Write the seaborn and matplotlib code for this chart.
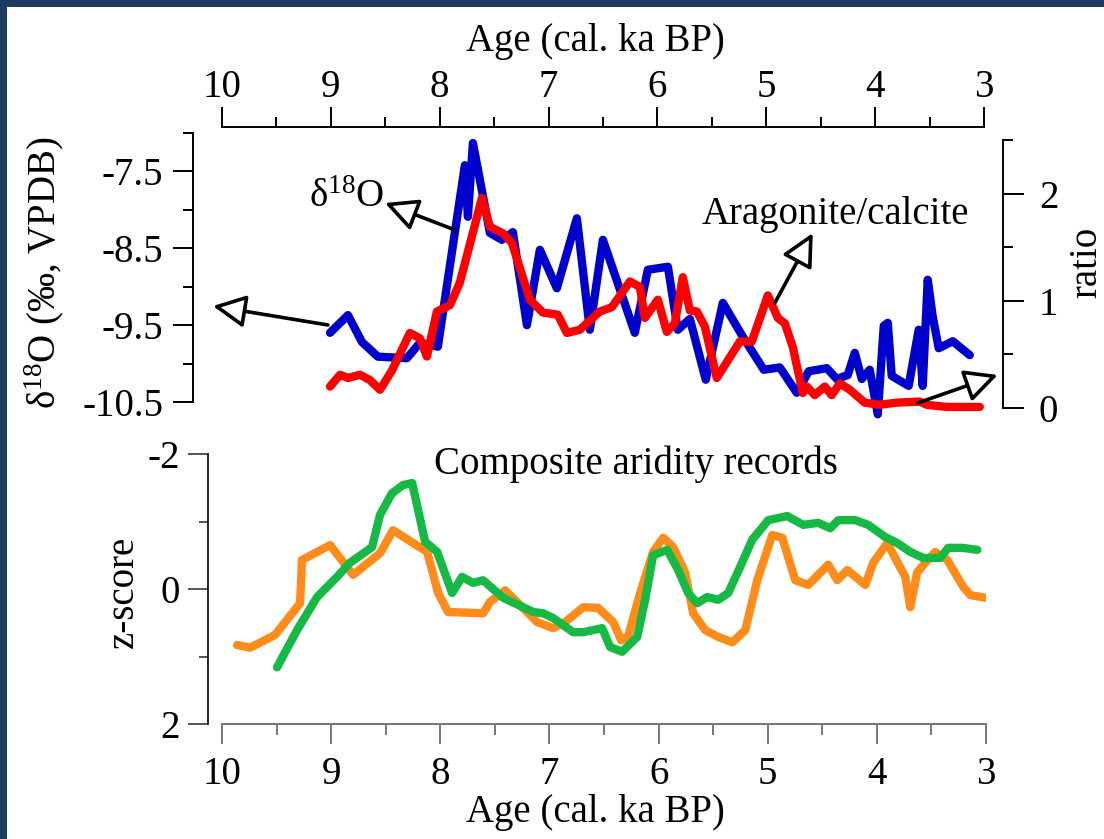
import numpy as np
import pandas as pd
import matplotlib
matplotlib.use("Agg")
import matplotlib.pyplot as plt
import seaborn as sns
from matplotlib.ticker import FixedLocator
from matplotlib.patches import Rectangle

# ---------------- data ----------------
d18o_age = [9.008, 8.843, 8.714, 8.568, 8.301, 8.182, 8.017, 7.769, 7.741, 7.695,
            7.539, 7.429, 7.328, 7.199, 7.080, 6.924, 6.740, 6.621, 6.501, 6.208,
            6.088, 5.904, 5.813, 5.702, 5.556, 5.399, 5.216, 5.023, 4.876, 4.720,
            4.610, 4.444, 4.353, 4.252, 4.187, 4.123, 4.050, 3.976, 3.921, 3.884,
            3.848, 3.692, 3.600, 3.563, 3.517, 3.471, 3.416, 3.287, 3.131]
d18o_val = [-9.60, -9.37, -9.72, -9.91, -9.93, -9.73, -9.78, -7.42, -8.09, -7.13,
            -8.30, -8.39, -8.29, -9.50, -8.52, -9.02, -8.11, -9.56, -8.39, -9.60,
            -8.78, -8.74, -9.56, -9.42, -10.21, -9.21, -9.65, -10.08, -10.05, -10.38,
            -10.10, -10.06, -10.20, -10.15, -9.86, -10.20, -10.08, -10.66, -9.51, -9.47,
            -10.16, -10.29, -9.56, -10.29, -8.91, -9.39, -9.80, -9.71, -9.89]

arag_age = [9.008, 8.916, 8.843, 8.733, 8.641, 8.549, 8.439, 8.274, 8.182, 8.118,
            8.026, 7.906, 7.815, 7.612, 7.539, 7.420, 7.337, 7.172, 7.052, 6.915,
            6.832, 6.713, 6.529, 6.419, 6.253, 6.162, 6.116, 5.996, 5.914, 5.840,
            5.767, 5.702, 5.638, 5.565, 5.455, 5.243, 5.133, 4.986, 4.894, 4.830,
            4.757, 4.665, 4.628, 4.555, 4.463, 4.399, 4.325, 4.233, 4.096, 3.958,
            3.802, 3.591, 3.526, 3.343, 3.039]
arag_ratio = [0.20, 0.31, 0.28, 0.31, 0.26, 0.17, 0.35, 0.70, 0.65, 0.48,
              0.90, 0.96, 1.17, 1.96, 1.69, 1.63, 1.54, 1.01, 0.89, 0.87,
              0.70, 0.73, 0.90, 0.94, 1.18, 1.13, 0.84, 1.01, 0.71, 0.79,
              1.22, 0.91, 0.90, 0.76, 0.28, 0.62, 0.62, 1.05, 0.84, 0.79,
              0.57, 0.14, 0.20, 0.12, 0.20, 0.12, 0.23, 0.17, 0.05, 0.03,
              0.05, 0.06, 0.03, 0.01, 0.01]

orange_age = [9.862, 9.743, 9.514, 9.285, 9.267, 9.010, 8.799, 8.552, 8.433, 8.121,
              8.020, 7.929, 7.608, 7.544, 7.406, 7.113, 6.966, 6.856, 6.691, 6.554,
              6.416, 6.343, 6.279, 6.169, 6.050, 5.958, 5.866, 5.756, 5.683, 5.573,
              5.454, 5.325, 5.206, 5.096, 4.959, 4.867, 4.748, 4.629, 4.446, 4.363,
              4.271, 4.106, 4.033, 3.905, 3.740, 3.694, 3.630, 3.556, 3.465, 3.355,
              3.208, 3.144, 3.006]
orange_z = [0.83, 0.87, 0.68, 0.21, -0.43, -0.65, -0.21, -0.53, -0.87, -0.55,
            0.06, 0.34, 0.36, 0.19, 0.02, 0.49, 0.58, 0.49, 0.27, 0.28,
            0.49, 0.76, 0.70, 0.06, -0.55, -0.76, -0.62, -0.24, 0.36, 0.61,
            0.71, 0.79, 0.61, -0.13, -0.80, -0.76, -0.13, -0.06, -0.36, -0.13,
            -0.28, -0.06, -0.39, -0.68, -0.18, 0.27, -0.25, -0.39, -0.55, -0.43,
            -0.03, 0.09, 0.13]

green_age = [9.496, 9.313, 9.129, 8.946, 8.827, 8.625, 8.552, 8.442, 8.341, 8.258,
             8.139, 8.029, 7.892, 7.800, 7.699, 7.608, 7.424, 7.149, 7.058, 6.966,
             6.783, 6.691, 6.517, 6.444, 6.334, 6.196, 6.123, 6.050, 5.921, 5.820,
             5.729, 5.646, 5.555, 5.454, 5.362, 5.252, 5.142, 4.995, 4.821, 4.675,
             4.537, 4.427, 4.354, 4.198, 4.079, 3.923, 3.813, 3.694, 3.575, 3.419,
             3.346, 3.217, 3.080]
green_z = [1.16, 0.61, 0.12, -0.18, -0.39, -0.62, -1.10, -1.42, -1.54, -1.57,
           -0.70, -0.55, 0.06, -0.18, -0.09, -0.13, 0.13, 0.34, 0.36, 0.43,
           0.64, 0.64, 0.58, 0.86, 0.93, 0.71, 0.16, -0.50, -0.58, -0.28,
           0.06, 0.21, 0.12, 0.16, 0.06, -0.33, -0.73, -1.02, -1.08, -0.95,
           -0.98, -0.90, -1.02, -1.02, -0.95, -0.77, -0.68, -0.55, -0.46, -0.46,
           -0.61, -0.61, -0.58]

age_major = [10, 9, 8, 7, 6, 5, 4, 3]
age_minor = [9.5, 8.5, 7.5, 6.5, 5.5, 4.5, 3.5]
d18o_major = [-10.5, -9.5, -8.5, -7.5]
d18o_minor = [-10.0, -9.0, -8.0, -7.0]
ratio_major = [0, 1, 2]
ratio_minor = [0.5, 1.5, 2.5]
z_major = [-2, 0, 2]
z_minor = [-1, 1]

# ---------------- style ----------------
sns.set_theme(style="ticks")
plt.rcParams["font.family"] = ["Liberation Serif", "DejaVu Serif"]
plt.rcParams["mathtext.fontset"] = "custom"
plt.rcParams["mathtext.rm"] = "Liberation Serif"
plt.rcParams["mathtext.it"] = "Liberation Serif:italic"
plt.rcParams["mathtext.default"] = "regular"
plt.rcParams["text.color"] = "black"
plt.rcParams["axes.labelcolor"] = "black"
plt.rcParams["xtick.color"] = "black"
plt.rcParams["ytick.color"] = "black"
plt.rcParams["xtick.labelcolor"] = "black"
plt.rcParams["ytick.labelcolor"] = "black"

FS = 28
W, H = 1104, 839
fig = plt.figure(figsize=(W / 100, H / 100), dpi=100)
fig.patch.set_facecolor("white")


def box(x0, y0, x1, y1):
    return [x0 / W, 1 - y1 / H, (x1 - x0) / W, (y1 - y0) / H]


def px2pt(p):
    return p * 72 / 100


# border of slide
navy = "#1b3a5f"
fig.patches.append(Rectangle((0, 1 - 7 / H), 1, 7 / H, transform=fig.transFigure,
                             facecolor=navy, edgecolor="none", zorder=0))
fig.patches.append(Rectangle((0, 0), 7 / W, 1, transform=fig.transFigure,
                             facecolor=navy, edgecolor="none", zorder=0))

LW = 6.0
SP = 1.4

# ---------------- top panel ----------------
ax = fig.add_axes(box(222, 133, 984, 408))
ax.set_facecolor("none")
df_d = pd.DataFrame({"age": d18o_age, "val": d18o_val})
sns.lineplot(data=df_d, x="age", y="val", ax=ax, color="#0000cc", linewidth=LW,
             sort=False, estimator=None, clip_on=False)
ax.set_xlim(10, 3)
ax.set_ylim(-10.578, -7.0)
ax.set_xlabel("")
ax.set_ylabel("")
for s in ["bottom", "right"]:
    ax.spines[s].set_visible(False)
ax.spines["top"].set_position(("outward", px2pt(6)))
ax.spines["left"].set_position(("outward", px2pt(29)))
ax.spines["left"].set_bounds(-10.5, -7.0)
for s in ["top", "left"]:
    ax.spines[s].set_linewidth(SP)
    ax.spines[s].set_color("black")
ax.xaxis.set_major_locator(FixedLocator(age_major))
ax.xaxis.set_minor_locator(FixedLocator(age_minor))
ax.set_xticklabels([str(a) for a in age_major])
ax.yaxis.set_major_locator(FixedLocator(d18o_major))
ax.yaxis.set_minor_locator(FixedLocator(d18o_minor))
ax.set_yticklabels([f"{v:.1f}" for v in d18o_major])
ax.tick_params(axis="x", which="both", top=True, bottom=False, labeltop=True,
               labelbottom=False, direction="out", width=SP, color="black")
ax.tick_params(axis="x", which="major", length=px2pt(20), labelsize=FS, pad=1)
ax.tick_params(axis="x", which="minor", length=px2pt(10))
ax.tick_params(axis="y", which="both", left=True, right=False, direction="out",
               width=SP, color="black")
ax.tick_params(axis="y", which="major", length=px2pt(20), labelsize=FS, pad=px2pt(10))
ax.tick_params(axis="y", which="minor", length=px2pt(10))

ax2 = ax.twinx()
ax2.set_facecolor("none")
df_a = pd.DataFrame({"age": arag_age, "ratio": arag_ratio})
sns.lineplot(data=df_a, x="age", y="ratio", ax=ax2, color="#ff0000", linewidth=LW,
             sort=False, estimator=None, clip_on=False)
ax2.set_xlim(10, 3)
ax2.set_ylim(0, 2.565)
ax2.set_xlabel("")
ax2.set_ylabel("")
for s in ["bottom", "top", "left"]:
    ax2.spines[s].set_visible(False)
ax2.spines["right"].set_position(("outward", px2pt(19)))
ax2.spines["right"].set_bounds(0, 2.5)
ax2.spines["right"].set_linewidth(SP)
ax2.spines["right"].set_color("black")
ax2.yaxis.set_major_locator(FixedLocator(ratio_major))
ax2.yaxis.set_minor_locator(FixedLocator(ratio_minor))
ax2.set_yticklabels([str(v) for v in ratio_major])
ax2.tick_params(axis="y", which="both", right=True, left=False, direction="out",
                width=SP, color="black")
ax2.tick_params(axis="y", which="major", length=px2pt(21), labelsize=FS, pad=px2pt(15))
ax2.tick_params(axis="y", which="minor", length=px2pt(10))

arrow = dict(arrowstyle="-|>,head_length=1.0,head_width=0.5", mutation_scale=20,
             fc="white", ec="black", lw=2.6, shrinkA=0, shrinkB=0)
ax.annotate("", xy=(10.083, -9.251), xytext=(9.027, -9.498), arrowprops=arrow,
            annotation_clip=False)
ax.annotate("", xy=(8.503, -7.911), xytext=(7.860, -8.262), arrowprops=arrow,
            annotation_clip=False)
ax2.annotate("", xy=(4.573, 1.632), xytext=(4.922, 0.979), arrowprops=arrow,
             annotation_clip=False)
ax2.annotate("", xy=(2.874, 0.308), xytext=(3.609, 0.047), arrowprops=arrow,
             annotation_clip=False)

fig.text(347 / W, 1 - 207 / H, r"δ$^{18}$O", fontsize=FS, ha="center", va="baseline")
fig.text(835 / W, 1 - 224 / H, "Aragonite/calcite", fontsize=FS, ha="center",
         va="baseline")

# ---------------- bottom panel ----------------
axb = fig.add_axes(box(222, 454, 986, 724))
axb.set_facecolor("none")
df_o = pd.DataFrame({"age": orange_age, "z": orange_z})
df_g = pd.DataFrame({"age": green_age, "z": green_z})
sns.lineplot(data=df_o, x="age", y="z", ax=axb, color="#ff8c1a", linewidth=LW,
             sort=False, estimator=None)
sns.lineplot(data=df_g, x="age", y="z", ax=axb, color="#15b943", linewidth=LW,
             sort=False, estimator=None)
axb.set_xlim(10, 3)
axb.set_ylim(2, -2)
axb.set_xlabel("")
axb.set_ylabel("")
for s in ["top", "right"]:
    axb.spines[s].set_visible(False)
axb.spines["left"].set_position(("outward", px2pt(14)))
axb.spines["left"].set_linewidth(SP)
axb.spines["left"].set_color("#222222")
axb.spines["bottom"].set_linewidth(SP)
axb.spines["bottom"].set_color("#777777")
axb.xaxis.set_major_locator(FixedLocator(age_major))
axb.xaxis.set_minor_locator(FixedLocator(age_minor))
axb.set_xticklabels([str(a) for a in age_major])
axb.yaxis.set_major_locator(FixedLocator(z_major))
axb.yaxis.set_minor_locator(FixedLocator(z_minor))
axb.set_yticklabels([str(v) for v in z_major])
axb.tick_params(axis="x", which="both", bottom=True, top=False, direction="out",
                width=SP, color="#777777", labelcolor="black")
axb.tick_params(axis="x", which="major", length=px2pt(20), labelsize=FS, pad=px2pt(12))
axb.tick_params(axis="x", which="minor", length=px2pt(11))
axb.tick_params(axis="y", which="both", left=True, right=False, direction="out",
                width=SP, color="#555555", labelcolor="black")
axb.tick_params(axis="y", which="major", length=px2pt(20), labelsize=FS, pad=px2pt(8))
axb.tick_params(axis="y", which="minor", length=px2pt(9))

fig.text(636 / W, 1 - 474 / H, "Composite aridity records", fontsize=FS,
         ha="center", va="baseline")

# ---------------- axis titles ----------------
fig.text(595 / W, 1 - 51 / H, "Age (cal. ka BP)", fontsize=FS, ha="center",
         va="baseline")
fig.text(595 / W, 1 - 822 / H, "Age (cal. ka BP)", fontsize=FS, ha="center",
         va="baseline")
fig.text(55 / W, 1 - 273 / H, r"δ$^{18}$O (‰, VPDB)", fontsize=FS, rotation=90,
         rotation_mode="anchor", ha="center", va="baseline")
fig.text(133 / W, 1 - 592 / H, "z-score", fontsize=FS, rotation=90,
         rotation_mode="anchor", ha="center", va="baseline")
fig.text(1096 / W, 1 - 262 / H, "ratio", fontsize=FS, rotation=90,
         rotation_mode="anchor", ha="center", va="baseline")

fig.savefig("out.png", dpi=100, facecolor="white")
